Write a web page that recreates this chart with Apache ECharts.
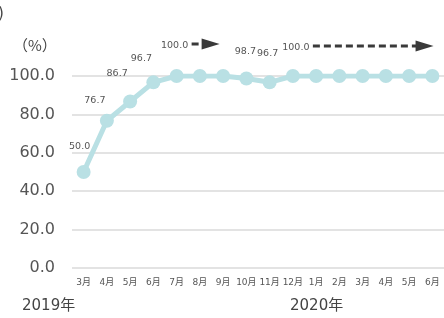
<!DOCTYPE html>
<html><head><meta charset="utf-8">
<script src="https://cdn.jsdelivr.net/npm/echarts@6/dist/echarts.min.js"></script>
<style>html,body{margin:0;padding:0;background:#fff}#c{width:444px;height:318px}</style>
</head><body><div id="c"></div>
<script>
var categories = ['3月','4月','5月','6月','7月','8月','9月','10月','11月','12月','1月','2月','3月','4月','5月','6月'];
var values = [50.0, 76.7, 86.7, 96.7, 100.0, 100.0, 100.0, 98.7, 96.7, 100.0, 100.0, 100.0, 100.0, 100.0, 100.0, 100.0];
var yTicks = [0, 20, 40, 60, 80, 100];
var yearLabels = ['2019年', '2020年'];
// labels shown: [index, dx, dy]
var labelPlacements = [[0,-4,-27],[1,-12,-21],[2,-13,-29],[3,-12,-25],[4,-2,-32],[7,-1,-28],[8,-2,-30],[9,3,-30]];
// arrows: from label index, end category index (fractional)
var arrows = [[4, 5.85], [9, 15.05]];

var FONT = 'DejaVu Sans, Noto Sans CJK JP, sans-serif';
var labelMap = {};
labelPlacements.forEach(function(p){ labelMap[p[0]] = p; });
var data = values.map(function(v, i){
  var p = labelMap[i];
  return {value: v, label: p ? {show: true, offset: [p[1], p[2]+18]} : {show: false}};
});
var chart = echarts.init(document.getElementById('c'));
chart.setOption({
  animation: false,
  grid: {left: 72, right: -2, top: 76, bottom: 50},
  xAxis: {
    type: 'category', data: categories, boundaryGap: true,
    axisLine: {show: false}, axisTick: {show: false},
    axisLabel: {interval: 0, fontSize: 9, color: '#555', margin: 10, fontFamily: FONT}
  },
  yAxis: {
    type: 'value', min: 0, max: 100, interval: 20,
    axisLabel: {fontSize: 16, color: '#555', margin: 17, fontFamily: FONT, formatter: function(v){ return v.toFixed(1); }},
    splitLine: {lineStyle: {color: '#dadada', width: 1.5}},
    axisLine: {show: false}, axisTick: {show: false}
  },
  series: [{
    type: 'line', data: data, symbol: 'circle', symbolSize: 14,
    lineStyle: {color: '#b9e0e4', width: 5},
    itemStyle: {color: '#b9e0e4'},
    label: {position: 'top', fontSize: 9.5, color: '#555', fontFamily: FONT, formatter: function(p){ return p.value.toFixed(1); }}
  }]
});
var g = [
  {type: 'text', left: -2, top: 7, style: {text: ')', fontSize: 15, fill: '#444', fontFamily: FONT}},
  {type: 'text', left: 13, top: 38, style: {text: '（%）', fontSize: 15, fill: '#444', fontFamily: 'Noto Sans CJK JP, sans-serif'}},
  {type: 'text', left: 22, top: 299, style: {text: yearLabels[0], fontSize: 15, fill: '#444', fontFamily: FONT}},
  {type: 'text', left: 290, top: 299, style: {text: yearLabels[1], fontSize: 15, fill: '#444', fontFamily: FONT}}
];
arrows.forEach(function(a){
  var i = a[0];
  var p = chart.convertToPixel({seriesIndex: 0}, [i, values[i]]);
  var p0 = chart.convertToPixel({xAxisIndex: 0}, 0);
  var p1 = chart.convertToPixel({xAxisIndex: 0}, 1);
  var step = p1 - p0;
  var y = p[1] + labelMap[i][2];
  var x0 = p[0] + labelMap[i][1] + 17;
  var xEnd = p0 + step * a[1];
  g.push({type: 'line', shape: {x1: x0, y1: y, x2: xEnd - 16, y2: y}, style: {stroke: '#3a3a3a', lineWidth: 3, lineDash: [7, 4]}});
  g.push({type: 'polygon', shape: {points: [[xEnd - 18, y - 5.5], [xEnd, y], [xEnd - 18, y + 5.5]]}, style: {fill: '#3a3a3a'}});
});
chart.setOption({graphic: g});
</script></body></html>
